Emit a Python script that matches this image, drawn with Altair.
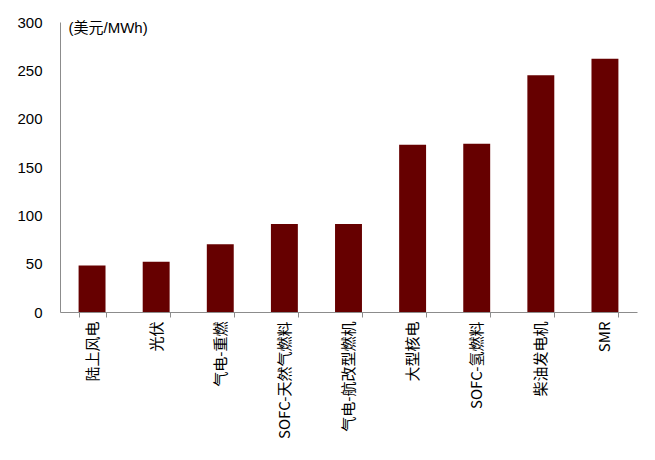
import altair as alt
import pandas as pd

categories = ["陆上风电", "光伏", "气电-重燃", "SOFC-天然气燃料", "气电-航改型燃机",
              "大型核电", "SOFC-氢燃料", "柴油发电机", "SMR"]
values = [48, 52, 70, 91, 91, 173, 174, 245, 262]

df = pd.DataFrame({"cat": categories, "val": values})
FONT = "Liberation Sans, Noto Sans CJK SC"
XFONT = "Liberation Sans Narrow, Noto Sans CJK SC"

chart = alt.Chart(df).mark_bar(color="#660000").encode(
    x=alt.X("cat:N", sort=categories,
            scale=alt.Scale(paddingInner=0.58, paddingOuter=0.29),
            axis=alt.Axis(title=None, labelAngle=-90, labelFontSize=15, labelFont=XFONT,
                          labelColor="#000000", domainColor="#8c8c8c", tickColor="#8c8c8c",
                          tickBand="extent", tickSize=5, labelPadding=4, labelLimit=200)),
    y=alt.Y("val:Q", scale=alt.Scale(domain=[0, 300], nice=False),
            axis=alt.Axis(values=[0, 50, 100, 150, 200, 250, 300], grid=False, ticks=False,
                          labelFontSize=15, labelFont=FONT, labelColor="#000000",
                          labelPadding=18, domainColor="#8c8c8c",
                          title="(美元/MWh)", titleAngle=0, titleAlign="left",
                          titleBaseline="middle", titleX=8, titleY=5,
                          titleFontSize=15, titleFontWeight="normal", titleFont=FONT,
                          titleColor="#000000")),
).properties(width=577, height=290, padding={"left": 8, "top": 7, "right": 5, "bottom": 5}
).configure_view(stroke=None)

chart.save("out.html", embed_options={"renderer": "svg", "actions": False})
